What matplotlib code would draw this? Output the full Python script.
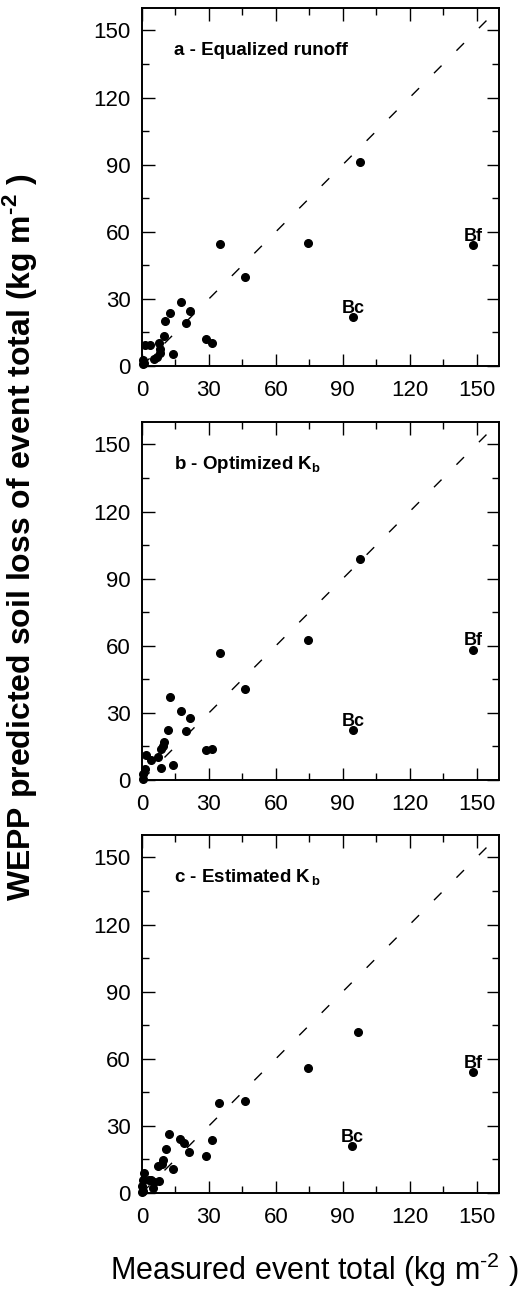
import matplotlib
matplotlib.use("Agg")
import matplotlib.pyplot as plt
from matplotlib.ticker import MultipleLocator

plt.rcParams["font.family"] = ["Liberation Sans", "DejaVu Sans"]
plt.rcParams["mathtext.fontset"] = "custom"
plt.rcParams["mathtext.rm"] = "Liberation Sans"
plt.rcParams["mathtext.bf"] = "Liberation Sans:bold"

# measured vs. WEPP predicted event soil loss (kg m-2)
a_measured = [0.3, 0.5, 1.0, 1.5, 3.5, 5.5, 6.5, 7.5, 8.0, 8.0, 10.0, 10.5, 12.5,
              14.0, 17.6, 19.5, 21.3, 28.8, 31.3, 35.0, 46.0, 74.5, 97.5, 94.5, 148.5]
a_predicted = [0.7, 2.5, 1.5, 9.5, 9.2, 2.9, 3.8, 10.4, 5.8, 7.8, 13.3, 20.2, 23.6,
               5.2, 28.4, 19.1, 24.7, 12.2, 10.2, 54.5, 39.7, 55.0, 91.0, 21.7, 54.0]

b_measured = [0.3, 0.5, 1.5, 2.0, 4.0, 7.0, 8.5, 8.5, 9.3, 10.0, 11.5, 12.6, 14.1,
              17.6, 19.5, 21.3, 28.8, 31.3, 34.8, 46.0, 74.5, 97.5, 94.5, 148.5]
b_predicted = [0.5, 2.5, 5.0, 11.0, 9.1, 10.3, 5.4, 14.0, 15.1, 16.9, 22.2, 37.2, 6.9,
               30.9, 21.9, 27.9, 13.2, 14.0, 56.8, 40.6, 62.6, 99.0, 22.2, 58.3]

c_measured = [0.0, 0.5, 0.0, 0.3, 1.0, 3.3, 4.0, 4.7, 5.5, 7.0, 7.8, 8.8, 9.3, 10.8,
              12.3, 13.8, 17.2, 18.8, 20.9, 28.5, 31.2, 34.5, 46.0, 74.5, 97.0, 94.2, 148.3]
c_predicted = [0.3, 1.0, 2.9, 5.7, 9.1, 5.7, 5.7, 2.0, 5.0, 12.1, 5.5, 12.9, 14.9, 19.7,
               26.3, 10.6, 24.3, 22.5, 18.4, 16.3, 23.6, 40.0, 41.0, 55.8, 72.0, 20.9, 54.0]

panel_titles = ["a - Equalized runoff", "b - Optimized K$_{\\mathregular{b}}$",
                "c - Estimated K$_{\\mathregular{\\,b}}$"]
outlier_names = ["Bc", "Bf"]
outlier_index = {"Bc": -2, "Bf": -1}

panels = [(a_measured, a_predicted), (b_measured, b_predicted), (c_measured, c_predicted)]
bottoms = [0.7174, 0.3977, 0.0788]

fig = plt.figure(figsize=(5.28, 12.95), dpi=100)

for (meas, pred), bottom, title in zip(panels, bottoms, panel_titles):
    ax = fig.add_axes([0.269, bottom, 0.676, 0.2764])
    ax.plot([0, 160], [0, 160], color="black", lw=1.0, dashes=(7.7, 15.2))
    ax.plot(meas, pred, "o", color="black", ms=5.5, clip_on=False, zorder=3)
    for name in outlier_names:
        i = outlier_index[name]
        ax.annotate(name, (meas[i], pred[i]), xytext=(0, 3), textcoords="offset points",
                    ha="center", va="baseline", fontsize=13, fontweight="bold")
    ax.text(14.5, 141, title, fontsize=13.5, fontweight="bold", va="center", ha="left")

    ax.set_xlim(0, 160)
    ax.set_ylim(0, 160)
    ax.xaxis.set_major_locator(MultipleLocator(30))
    ax.xaxis.set_minor_locator(MultipleLocator(15))
    ax.yaxis.set_major_locator(MultipleLocator(30))
    ax.yaxis.set_minor_locator(MultipleLocator(15))
    ax.tick_params(which="both", direction="in", top=True, right=True, width=1.0)
    ax.tick_params(which="major", length=9, labelsize=16, pad=8)
    ax.tick_params(axis="x", which="major", pad=10)
    ax.tick_params(which="minor", length=5)
    for spine in ax.spines.values():
        spine.set_linewidth(1.4)

fig.text(0.595, 0.005, "Measured event total (kg m$^{\\mathregular{\u20102}}$ )", fontsize=22,
         ha="center", va="bottom")
fig.text(0.036, 0.585, "WEPP predicted soil loss of event total (kg m$^{\\mathbf{\u20102}}$ )",
         fontsize=23, fontweight="bold", rotation=90, ha="center", va="center")

fig.savefig("out.png", dpi=100)
